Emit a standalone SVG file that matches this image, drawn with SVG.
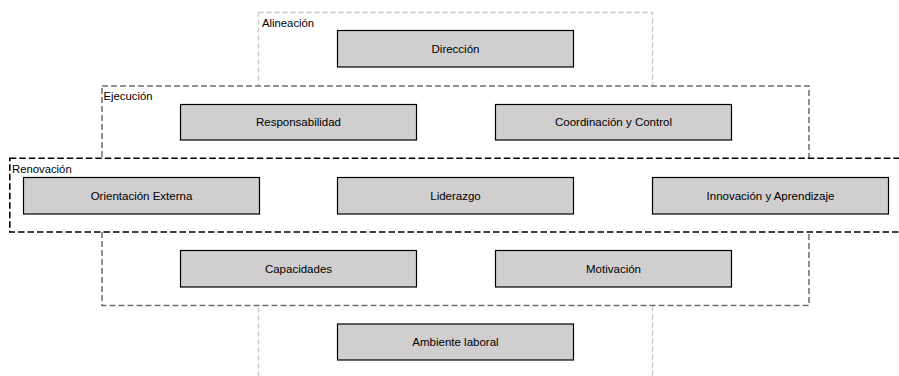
<svg xmlns="http://www.w3.org/2000/svg" width="899" height="376" viewBox="0 0 899 376">
<style>
.grp{fill:#fff}
.g1{stroke:#c9c9c9;stroke-width:1.3;stroke-dasharray:5 3}
.g2{stroke:#6e6e6e;stroke-width:1.5;stroke-dasharray:6 3}
.g3{stroke:#000;stroke-width:1.6;stroke-dasharray:6.5 3}
.lbl{font-family:"Liberation Sans",Arial,sans-serif;font-size:11.3px;fill:#000}
.box{fill:#d0cece;stroke:#000;stroke-width:1.2}
.t{font-family:"Liberation Sans",Arial,sans-serif;font-size:11.5px;fill:#000;text-anchor:middle}
</style>
<rect width="899" height="376" fill="#fff"/>
<g id="groups">
<g id="alineacion">
<rect class="grp g1" x="258.5" y="12.5" width="394" height="380"/>
<text class="lbl" x="262" y="26.5">Alineación</text>
</g>
<g id="ejecucion">
<rect class="grp g2" x="102" y="86" width="707" height="219.5"/>
<text class="lbl" x="103.5" y="99.5">Ejecución</text>
</g>
<g id="renovacion">
<rect class="grp g3" x="9.8" y="158.3" width="892" height="73.7"/>
<text class="lbl" x="12" y="172.5">Renovación</text>
</g>
</g>
<g id="connectors"></g>
<g id="n-direccion"><rect class="box" x="337.5" y="30.5" width="236" height="36.5"/><text class="t" x="455.5" y="52.5">Dirección</text></g>
<g id="n-responsabilidad"><rect class="box" x="180.5" y="104.5" width="236" height="35.5"/><text class="t" x="298.5" y="126">Responsabilidad</text></g>
<g id="n-coordinacion"><rect class="box" x="495.5" y="104.5" width="236" height="35.5"/><text class="t" x="613.5" y="126">Coordinación y Control</text></g>
<g id="n-orientacion"><rect class="box" x="23.5" y="177.5" width="236" height="36.5"/><text class="t" x="141.5" y="199.5">Orientación Externa</text></g>
<g id="n-liderazgo"><rect class="box" x="337.5" y="177.5" width="236" height="36.5"/><text class="t" x="455.5" y="199.5">Liderazgo</text></g>
<g id="n-innovacion"><rect class="box" x="652.5" y="177.5" width="236" height="36.5"/><text class="t" x="770.5" y="199.5">Innovación y Aprendizaje</text></g>
<g id="n-capacidades"><rect class="box" x="180.5" y="250.5" width="236" height="36.5"/><text class="t" x="298.5" y="272.5">Capacidades</text></g>
<g id="n-motivacion"><rect class="box" x="495.5" y="250.5" width="236" height="36.5"/><text class="t" x="613.5" y="272.5">Motivación</text></g>
<g id="n-ambiente"><rect class="box" x="337.5" y="324" width="236" height="36"/><text class="t" x="455.5" y="346">Ambiente laboral</text></g>
</svg>
